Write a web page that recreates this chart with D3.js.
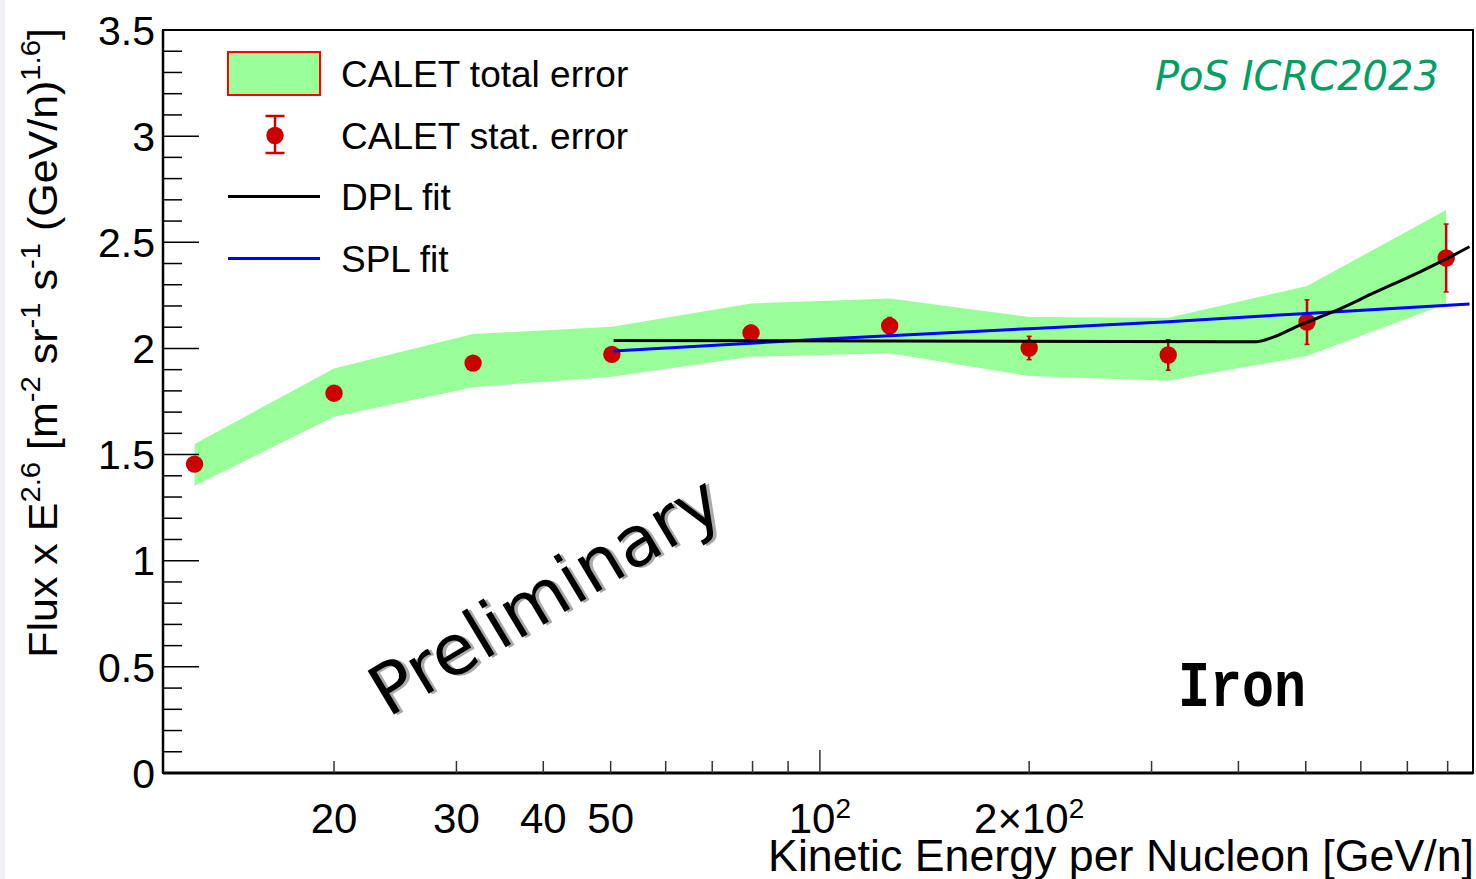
<!DOCTYPE html>
<html>
<head>
<meta charset="utf-8">
<script src="https://cdn.jsdelivr.net/npm/d3@7"></script>
<style>
  body { margin: 0; background: #fff; }
  svg { display: block; }
  text { white-space: pre; }
</style>
</head>
<body>
<svg id="chart" width="1476" height="879"></svg>
<script>
// CALET iron flux (multiplied by E^2.6), bin centres in GeV/n
const energy   = [12.6, 20.0, 31.7, 50.2, 79.6, 126, 200, 317, 502, 796];
const flux     = [1.455, 1.789, 1.931, 1.972, 2.073, 2.106, 2.002, 1.969, 2.124, 2.426];
const statErr  = [0.022, 0.026, 0.030, 0.032, 0.036, 0.040, 0.055, 0.072, 0.105, 0.160];
// total (stat + syst) error band edges
const totalUpper = [1.550, 1.906, 2.068, 2.102, 2.212, 2.235, 2.148, 2.145, 2.294, 2.652];
const totalLower = [1.353, 1.678, 1.817, 1.867, 1.961, 1.977, 1.870, 1.848, 1.964, 2.209];

// double power-law fit curve
const dplEnergy = [50.5, 425, 449, 491, 548, 625, 730, 799, 860];
const dplFlux   = [2.037, 2.032, 2.053, 2.111, 2.173, 2.260, 2.361, 2.424, 2.479];
// single power-law fit curve
const splEnergy = [50.5, 100, 200, 317, 502, 860];
const splFlux   = [1.988, 2.043, 2.093, 2.126, 2.165, 2.209];

// axis ticks
const xTickValues = [20, 30, 40, 50, 100, 200];
const xTickLabels = ["20", "30", "40", "50", "10^2", "2\u00d710^2"];
const xMinorTicks = [20, 30, 40, 50, 60, 70, 80, 90, 200, 300, 400, 500, 600, 700, 800];
const xMajorTicks = [100];
const yTickValues = [0, 0.5, 1, 1.5, 2, 2.5, 3, 3.5];
const yTickLabels = ["0", "0.5", "1", "1.5", "2", "2.5", "3", "3.5"];

const legendLabels = ["CALET total error", "CALET stat. error", "DPL fit", "SPL fit"];

const SANS = "'Liberation Sans', Arial, Helvetica, sans-serif";
const RED = "#cc0000";
const BAND = "#99ff99";

const svg = d3.select("#chart");
const frame = { left: 163, right: 1473, top: 30, bottom: 773 };

const x = d3.scaleLog().domain([11.35, 870]).range([frame.left, frame.right]);
const y = d3.scaleLinear().domain([0, 3.5]).range([frame.bottom, frame.top]);

// thin shaded strip at the left page edge
svg.append("rect").attr("x", 0).attr("y", 0).attr("width", 5).attr("height", 879).attr("fill", "#eef0f3");

// text with ^{...} superscripts
function richText(sel, str, base, sup, shift) {
  const re = /\^\{([^}]*)\}|\^(.)/g;
  let last = 0, m; const segs = [];
  while ((m = re.exec(str))) {
    if (m.index > last) segs.push({ t: str.slice(last, m.index) });
    segs.push({ t: m[1] !== undefined ? m[1] : m[2], sup: true });
    last = re.lastIndex;
  }
  if (last < str.length) segs.push({ t: str.slice(last) });
  let raised = false;
  segs.forEach(s => {
    const ts = sel.append("tspan").text(s.t);
    if (s.sup) {
      ts.attr("font-size", sup).attr("dy", raised ? 0 : -shift);
      raised = true;
    } else {
      ts.attr("font-size", base);
      if (raised) { ts.attr("dy", shift); raised = false; }
    }
  });
  return sel;
}

// squeeze/stretch a text horizontally to a given width
function fitWidth(sel, width) {
  const w = sel.node().getBBox().width;
  if (w > 0) sel.attr("transform", `scale(${width / w},1)`);
  return sel;
}

// ---- total error band
const band = d3.area()
  .x((d, i) => x(energy[i]))
  .y0((d, i) => y(totalLower[i]))
  .y1((d, i) => y(totalUpper[i]));
svg.append("path").datum(energy).attr("d", band).attr("fill", BAND);

// ---- data points with statistical errors
const pts = svg.append("g");
energy.forEach((e, i) => {
  const cx = x(e);
  pts.append("line").attr("x1", cx).attr("x2", cx)
    .attr("y1", y(flux[i] - statErr[i])).attr("y2", y(flux[i] + statErr[i]))
    .attr("stroke", RED).attr("stroke-width", 2.5);
  [flux[i] - statErr[i], flux[i] + statErr[i]].forEach(v => {
    pts.append("line").attr("x1", cx - 2.5).attr("x2", cx + 2.5).attr("y1", y(v)).attr("y2", y(v))
      .attr("stroke", RED).attr("stroke-width", 1.5);
  });
  pts.append("circle").attr("cx", cx).attr("cy", y(flux[i])).attr("r", 8.7).attr("fill", RED);
});

// ---- fit curves
const line = d3.line().x(d => x(d[0])).y(d => y(d[1]));
svg.append("path").datum(splEnergy.map((e, i) => [e, splFlux[i]]))
  .attr("d", line).attr("fill", "none").attr("stroke", "#0000ff").attr("stroke-width", 3);
svg.append("path").datum(dplEnergy.map((e, i) => [e, dplFlux[i]]))
  .attr("d", line.curve(d3.curveMonotoneX)).attr("fill", "none").attr("stroke", "#000").attr("stroke-width", 3);

// ---- frame
svg.append("rect").attr("x", frame.left).attr("y", frame.top)
  .attr("width", frame.right - frame.left).attr("height", frame.bottom - frame.top)
  .attr("fill", "none").attr("stroke", "#000").attr("stroke-width", 2);
svg.append("line").attr("x1", frame.left).attr("x2", frame.right).attr("y1", frame.bottom).attr("y2", frame.bottom)
  .attr("stroke", "#000").attr("stroke-width", 3);
svg.append("line").attr("x1", frame.left).attr("x2", frame.left).attr("y1", frame.top).attr("y2", frame.bottom)
  .attr("stroke", "#000").attr("stroke-width", 2.5);

// ---- y axis ticks (minor every 0.1)
const yMinor = d3.range(0, 36).map(k => k / 10);
const yAx = svg.append("g");
yMinor.forEach(v => {
  const major = Math.abs(v * 2 - Math.round(v * 2)) < 1e-6;
  yAx.append("line").attr("x1", frame.left).attr("x2", frame.left + (major ? 36 : 19))
    .attr("y1", y(v)).attr("y2", y(v)).attr("stroke", "#000").attr("stroke-width", 1.5);
});
yTickValues.forEach((v, i) => {
  yAx.append("text").attr("x", 155).attr("y", y(v)).attr("dy", "0.36em")
    .attr("text-anchor", "end").attr("font-family", SANS).attr("font-size", 41)
    .text(yTickLabels[i]);
});

// ---- x axis ticks
const xAx = svg.append("g");
xMinorTicks.forEach(v => {
  xAx.append("line").attr("x1", x(v)).attr("x2", x(v)).attr("y1", frame.bottom).attr("y2", frame.bottom - 12)
    .attr("stroke", "#333").attr("stroke-width", 1.5);
});
xMajorTicks.forEach(v => {
  xAx.append("line").attr("x1", x(v)).attr("x2", x(v)).attr("y1", frame.bottom).attr("y2", frame.bottom - 23)
    .attr("stroke", "#333").attr("stroke-width", 1.5);
});
xTickValues.forEach((v, i) => {
  const t = xAx.append("text").attr("x", x(v)).attr("y", 833)
    .attr("text-anchor", "middle").attr("font-family", SANS);
  richText(t, xTickLabels[i], 42, 28, 15);
});

// ---- axis titles
const xt = svg.append("g").attr("transform", "translate(1474,871)")
  .append("text").attr("text-anchor", "end").attr("font-family", SANS).attr("font-size", 44)
  .text("Kinetic Energy per Nucleon [GeV/n]");
fitWidth(xt, 706);

const yt = svg.append("g").attr("transform", "translate(57,28) rotate(-90)")
  .append("text").attr("text-anchor", "end").attr("font-family", SANS);
richText(yt, "Flux x E^{2.6} [m^{-2} sr^{-1} s^{-1} (GeV/n)^{1.6}]", 41, 28, 17);
fitWidth(yt, 630);

// ---- legend
const lg = svg.append("g");
const rowY = [74, 135.5, 197, 258.5];
lg.append("rect").attr("x", 228).attr("y", 52).attr("width", 92).attr("height", 43)
  .attr("fill", BAND).attr("stroke", "#ff0000").attr("stroke-width", 2);
lg.append("line").attr("x1", 275).attr("x2", 275).attr("y1", 116).attr("y2", 153)
  .attr("stroke", RED).attr("stroke-width", 2.5);
[116, 153].forEach(v => lg.append("line").attr("x1", 265.5).attr("x2", 284.5).attr("y1", v).attr("y2", v)
  .attr("stroke", RED).attr("stroke-width", 2.5));
lg.append("circle").attr("cx", 275).attr("cy", 135.5).attr("r", 8.7).attr("fill", RED);
lg.append("line").attr("x1", 228).attr("x2", 320).attr("y1", 196.5).attr("y2", 196.5)
  .attr("stroke", "#000").attr("stroke-width", 3);
lg.append("line").attr("x1", 228).attr("x2", 320).attr("y1", 258.5).attr("y2", 258.5)
  .attr("stroke", "#0000ff").attr("stroke-width", 3);
legendLabels.forEach((s, i) => {
  lg.append("text").attr("x", 341).attr("y", rowY[i]).attr("dy", "0.36em")
    .attr("font-family", SANS).attr("font-size", 37).text(s);
});

// ---- annotations
svg.append("text").attr("x", 1155).attr("y", 90)
  .attr("font-family", "'DejaVu Sans', sans-serif").attr("font-style", "italic")
  .attr("font-size", 40).attr("fill", "#00a064").text("PoS ICRC2023");

const prelim = svg.append("g").attr("transform", "translate(388,718) rotate(-31)");
prelim.append("text").attr("x", 2.5).attr("y", 2.5).attr("font-family", "'DejaVu Sans', sans-serif")
  .attr("font-size", 70).attr("fill", "#aaaaaa").text("Preliminary");
prelim.append("text").attr("x", 0).attr("y", 0).attr("font-family", "'DejaVu Sans', sans-serif")
  .attr("font-size", 70).attr("fill", "#000").text("Preliminary");

const iron = svg.append("g").attr("transform", "translate(1178,706)")
  .append("text").attr("font-family", "'Liberation Mono', 'Courier New', monospace")
  .attr("font-weight", "bold").attr("font-size", 64).text("Iron");
fitWidth(iron, 128);
</script>
</body>
</html>
